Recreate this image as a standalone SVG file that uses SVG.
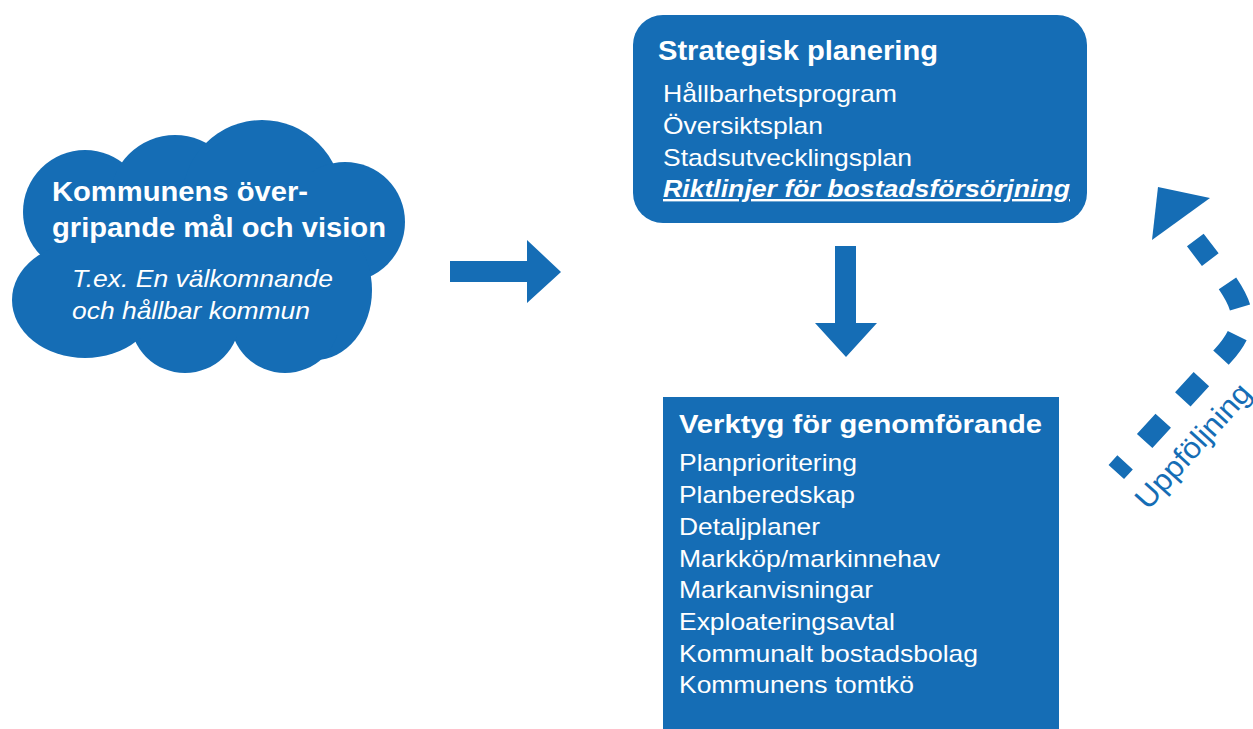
<svg xmlns="http://www.w3.org/2000/svg" width="1253" height="729" viewBox="0 0 1253 729">
  <style>
    .fill { fill: #156DB5; }
    .t { font-family: "Liberation Sans", Arial, sans-serif; fill: #FFFFFF; }
    .h { font-weight: bold; }
    .i { font-style: italic; }
    .lbl { font-family: "Liberation Sans", Arial, sans-serif; fill: #156DB5; font-size: 30px; }
  </style>
  <rect width="1253" height="729" fill="#FFFFFF"/>

  <!-- Cloud: overlapping lobes -->
  <g id="vision" class="fill">
    <circle cx="85" cy="212" r="62"/>
    <circle cx="175" cy="200" r="65"/>
    <circle cx="262" cy="200" r="80"/>
    <circle cx="345" cy="222" r="60"/>
    <ellipse cx="315" cy="290" rx="57" ry="70"/>
    <circle cx="285" cy="318" r="55"/>
    <circle cx="185" cy="318" r="55"/>
    <ellipse cx="85" cy="300" rx="73" ry="58"/>
    <rect x="60" y="190" width="290" height="145"/>
    <text class="t h" x="52" y="201" font-size="28" textLength="256" lengthAdjust="spacingAndGlyphs">Kommunens över-</text>
    <text class="t h" x="52" y="237" font-size="28" textLength="334" lengthAdjust="spacingAndGlyphs">gripande mål och vision</text>
    <text class="t i" x="72" y="287" font-size="24" textLength="261" lengthAdjust="spacingAndGlyphs">T.ex. En välkomnande</text>
    <text class="t i" x="72" y="319" font-size="24" textLength="238" lengthAdjust="spacingAndGlyphs">och hållbar kommun</text>
  </g>

  <!-- Strategic planning box -->
  <g id="strategisk">
    <rect class="fill" x="633" y="15" width="454" height="208" rx="30" ry="30"/>
    <text class="t h" x="658" y="60" font-size="27" textLength="280" lengthAdjust="spacingAndGlyphs">Strategisk planering</text>
    <text class="t" x="663" y="102" font-size="24" textLength="234" lengthAdjust="spacingAndGlyphs">Hållbarhetsprogram</text>
    <text class="t" x="663" y="134" font-size="24" textLength="160" lengthAdjust="spacingAndGlyphs">Översiktsplan</text>
    <text class="t" x="663" y="166" font-size="24" textLength="249" lengthAdjust="spacingAndGlyphs">Stadsutvecklingsplan</text>
    <text class="t h i" x="663" y="197" font-size="24" textLength="407" lengthAdjust="spacingAndGlyphs" text-decoration="underline">Riktlinjer för bostadsförsörjning</text>
  </g>

  <!-- Implementation tools box -->
  <g id="verktyg">
    <rect class="fill" x="663" y="397" width="396" height="332"/>
    <text class="t h" x="679" y="433" font-size="26" textLength="363" lengthAdjust="spacingAndGlyphs">Verktyg för genomförande</text>
    <text class="t" x="679" y="471" font-size="24" textLength="178" lengthAdjust="spacingAndGlyphs">Planprioritering</text>
    <text class="t" x="679" y="503" font-size="24" textLength="176" lengthAdjust="spacingAndGlyphs">Planberedskap</text>
    <text class="t" x="679" y="535" font-size="24" textLength="141" lengthAdjust="spacingAndGlyphs">Detaljplaner</text>
    <text class="t" x="679" y="567" font-size="24" textLength="261" lengthAdjust="spacingAndGlyphs">Markköp/markinnehav</text>
    <text class="t" x="679" y="598" font-size="24" textLength="194" lengthAdjust="spacingAndGlyphs">Markanvisningar</text>
    <text class="t" x="679" y="630" font-size="24" textLength="216" lengthAdjust="spacingAndGlyphs">Exploateringsavtal</text>
    <text class="t" x="679" y="662" font-size="24" textLength="299" lengthAdjust="spacingAndGlyphs">Kommunalt bostadsbolag</text>
    <text class="t" x="679" y="693" font-size="24" textLength="235" lengthAdjust="spacingAndGlyphs">Kommunens tomtkö</text>
  </g>

  <!-- Connectors -->
  <g id="connectors">
    <polygon class="fill" points="450,261 527,261 527,240 561,272 527,303 527,282 450,282"/>
    <polygon class="fill" points="835,246 856,246 856,323 877,323 846,357 815,323 835,323"/>
    <path d="M1116.3,472 L1222.5,356 C1256,319.2 1241,301 1211.3,261 L1195.3,240" fill="none" stroke="#156DB5" stroke-width="21" stroke-dasharray="27.5 29" stroke-dashoffset="14.5"/>
    <polygon class="fill" points="1158,187 1210,198 1152,240"/>
    <text class="lbl" x="1148" y="511" transform="rotate(-48 1148 511)" textLength="157" lengthAdjust="spacingAndGlyphs">Uppföljning</text>
  </g>
</svg>
